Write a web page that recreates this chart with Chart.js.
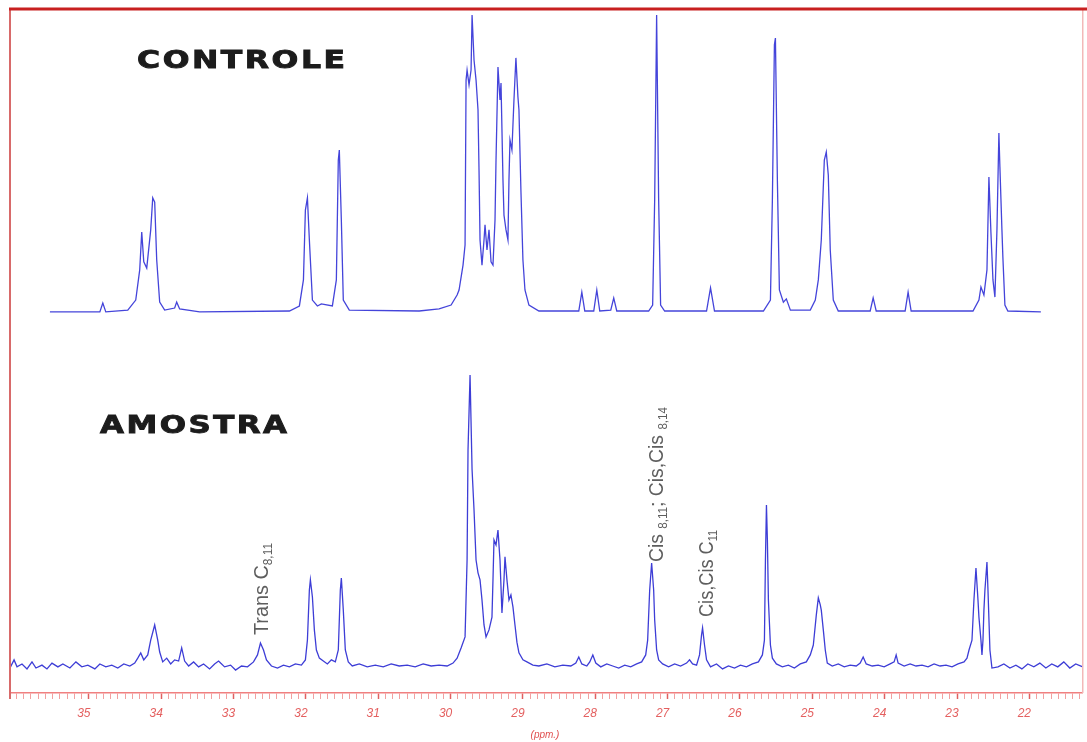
<!DOCTYPE html>
<html><head><meta charset="utf-8">
<script src="https://cdn.jsdelivr.net/npm/chart.js@4.4.1/dist/chart.umd.min.js"></script>
<style>html,body{margin:0;padding:0;background:#fff;overflow:hidden}canvas{display:block}</style>
</head><body>
<canvas id="c" width="1087" height="742"></canvas>
<script>
const seriesNames = ['CONTROLE', 'AMOSTRA'];
const axisTitle = '(ppm.)';
const majorTicks = [35, 34, 33, 32, 31, 30, 29, 28, 27, 26, 25, 24, 23, 22];

// [ppm, relative intensity] for the CONTROLE spectrum
const controle = [[35.538,-0.3],[34.848,-0.3],[34.807,2.7],[34.766,-0.3],[34.462,0.3],[34.352,3.7],[34.297,13.9],[34.269,26.7],[34.241,16.6],[34.2,14.5],[34.145,27.4],[34.117,38.2],[34.09,36.8],[34.062,17.2],[34.021,3.0],[33.952,0.3],[33.814,1.0],[33.786,3.0],[33.745,0.7],[33.469,-0.3],[32.228,0],[32.09,1.7],[32.034,10.5],[32.007,34.1],[31.979,38.2],[31.952,24.0],[31.91,3.7],[31.841,1.7],[31.786,2.4],[31.634,1.7],[31.579,10.5],[31.552,51.0],[31.538,54.4],[31.51,30.7],[31.483,3.7],[31.4,0.3],[30.434,0],[30.159,0.7],[29.993,2.0],[29.91,5.4],[29.883,7.1],[29.828,15.5],[29.8,22.3],[29.786,78.0],[29.772,81.4],[29.745,76.4],[29.717,81.4],[29.703,100],[29.676,84.8],[29.648,78.0],[29.621,67.9],[29.607,47.6],[29.593,24.0],[29.566,15.5],[29.538,24.0],[29.524,29.1],[29.497,20.6],[29.469,27.4],[29.441,16.6],[29.414,15.5],[29.386,30.7],[29.372,51.0],[29.345,82.4],[29.317,71.3],[29.303,77.0],[29.276,44.3],[29.262,32.4],[29.234,27.4],[29.207,24.0],[29.193,44.3],[29.179,57.8],[29.152,54.4],[29.124,71.3],[29.097,85.5],[29.069,72.3],[29.055,67.9],[29.028,40.9],[29.0,17.2],[28.972,7.1],[28.917,2.0],[28.779,0],[28.228,0],[28.186,6.4],[28.145,0],[28.021,0],[27.979,7.1],[27.938,0],[27.786,0.3],[27.745,4.4],[27.703,0],[27.262,0],[27.207,2.0],[27.179,37.5],[27.152,100],[27.124,37.5],[27.097,2.0],[27.041,0],[26.462,0],[26.407,7.8],[26.352,0],[25.676,0],[25.579,3.7],[25.552,37.5],[25.524,89.9],[25.51,92.2],[25.483,44.3],[25.455,7.1],[25.4,3.0],[25.359,4.1],[25.303,0.3],[25.028,0.3],[24.959,3.7],[24.917,10.5],[24.876,24.0],[24.834,51.0],[24.807,53.7],[24.779,45.9],[24.752,20.6],[24.71,3.7],[24.641,0],[24.2,0],[24.159,4.4],[24.117,0],[23.717,0],[23.676,6.4],[23.634,0],[22.779,0],[22.697,3.7],[22.669,8.1],[22.628,5.4],[22.586,13.9],[22.559,45.3],[22.531,26.4],[22.503,10.5],[22.476,4.7],[22.448,27.4],[22.421,60.1],[22.407,48.6],[22.379,27.4],[22.366,18.2],[22.338,2.0],[22.297,0],[21.841,-0.3]];

// [ppm, relative intensity] for the AMOSTRA spectrum
const amostra = [[36.09,-0.7],[36.034,2.1],[35.993,-0.3],[35.924,0.7],[35.855,-1.0],[35.786,1.4],[35.731,-0.7],[35.648,0.3],[35.579,-1.0],[35.51,1.0],[35.428,-0.3],[35.359,0.7],[35.262,-0.7],[35.179,1.4],[35.097,-0.3],[35.014,0.3],[34.917,-1.0],[34.848,0.7],[34.766,-0.3],[34.683,0.3],[34.6,-0.7],[34.517,0.7],[34.434,0],[34.366,1.0],[34.324,2.7],[34.283,4.5],[34.241,2.1],[34.186,3.8],[34.145,8.9],[34.09,14.1],[34.048,8.9],[34.021,4.8],[33.979,1.4],[33.924,2.7],[33.869,0.7],[33.814,2.1],[33.759,1.7],[33.717,6.2],[33.676,1.7],[33.621,0],[33.552,1.4],[33.483,-0.3],[33.414,0.7],[33.331,-1.0],[33.262,0.7],[33.207,1.7],[33.179,1.0],[33.124,-0.3],[33.041,0.3],[32.972,-1.4],[32.89,0],[32.807,-0.3],[32.724,1.4],[32.669,3.8],[32.628,7.9],[32.586,5.5],[32.545,2.1],[32.476,0],[32.393,-0.7],[32.31,0.3],[32.228,-0.3],[32.145,0.7],[32.062,0.3],[32.007,2.1],[31.979,8.9],[31.952,26.1],[31.938,29.6],[31.91,23.7],[31.883,12.4],[31.855,5.5],[31.814,2.7],[31.759,1.7],[31.703,0.7],[31.648,2.1],[31.593,1.4],[31.552,5.5],[31.524,26.1],[31.51,30.2],[31.483,19.2],[31.455,5.5],[31.414,1.4],[31.359,0],[31.262,0.7],[31.152,-0.3],[31.041,0.3],[30.931,-0.3],[30.821,0.7],[30.71,0],[30.6,0.3],[30.49,-0.3],[30.379,0.7],[30.269,0],[30.159,0.3],[30.048,0],[29.966,1.0],[29.91,2.7],[29.855,6.2],[29.8,10.0],[29.772,36.4],[29.759,74.2],[29.731,100],[29.703,67.4],[29.676,53.6],[29.648,36.4],[29.621,32.0],[29.593,29.6],[29.566,22.7],[29.538,14.1],[29.51,10.0],[29.469,12.4],[29.428,16.8],[29.414,29.6],[29.4,43.3],[29.372,41.6],[29.345,46.7],[29.317,36.4],[29.29,18.2],[29.262,29.6],[29.248,37.5],[29.221,29.6],[29.193,22.7],[29.166,24.4],[29.138,20.3],[29.11,14.1],[29.083,8.2],[29.055,4.5],[29.0,2.1],[28.945,1.4],[28.862,0.3],[28.779,0],[28.669,0.7],[28.559,-0.3],[28.448,0.3],[28.338,0],[28.269,1.0],[28.228,3.1],[28.186,0.7],[28.117,0],[28.076,1.4],[28.034,3.8],[27.993,1.0],[27.924,-0.3],[27.841,0.7],[27.759,0],[27.676,-0.7],[27.593,0.3],[27.51,-0.3],[27.428,0.7],[27.359,1.4],[27.303,3.8],[27.276,8.9],[27.248,26.1],[27.221,35.4],[27.193,26.1],[27.179,15.8],[27.152,5.5],[27.124,2.1],[27.069,0.7],[26.986,-0.3],[26.903,0.7],[26.821,0],[26.738,1.0],[26.697,2.1],[26.655,0.7],[26.6,0.3],[26.559,3.8],[26.531,10.7],[26.517,13.1],[26.49,7.2],[26.462,2.1],[26.407,-0.3],[26.324,0.7],[26.241,-1.0],[26.159,0],[26.076,-0.7],[25.993,0.3],[25.91,-0.3],[25.828,0.7],[25.745,1.4],[25.69,3.8],[25.662,8.9],[25.648,36.4],[25.634,55.3],[25.621,43.3],[25.607,22.7],[25.579,7.2],[25.552,2.7],[25.497,0.7],[25.414,-0.3],[25.331,0.3],[25.248,-0.7],[25.166,0.7],[25.083,1.4],[25.028,3.8],[24.986,7.2],[24.945,17.5],[24.917,23.4],[24.89,21.0],[24.876,19.2],[24.848,12.4],[24.821,5.5],[24.793,1.0],[24.724,0],[24.641,0.7],[24.559,-0.3],[24.476,0.3],[24.393,0],[24.338,1.0],[24.297,3.1],[24.255,0.7],[24.172,0],[24.09,0.3],[24.007,-0.3],[23.924,0.7],[23.869,1.4],[23.841,3.8],[23.814,1.0],[23.731,0],[23.648,0.7],[23.566,0],[23.483,0.3],[23.4,-0.3],[23.317,0.7],[23.234,0],[23.152,0.3],[23.069,-0.3],[22.986,0.7],[22.903,1.4],[22.862,2.7],[22.834,5.5],[22.793,8.9],[22.766,22.7],[22.738,33.7],[22.71,22.7],[22.697,16.8],[22.669,8.9],[22.655,3.8],[22.641,8.9],[22.628,19.2],[22.614,26.1],[22.586,35.7],[22.572,26.1],[22.545,5.5],[22.517,-0.7],[22.434,-0.3],[22.352,0.7],[22.269,-0.7],[22.186,0.3],[22.103,-1.0],[22.021,0.7],[21.938,-0.3],[21.855,1.0],[21.772,-0.7],[21.69,0.7],[21.607,-0.3],[21.524,1.4],[21.441,-0.7],[21.359,0.7],[21.262,-0.3]];

// peak annotations: text parts with subscript flags
const peakNotes = [
  {parts: [['Trans C', 0], ['8,11', 1]], baseX: 268, bottomY: 635, len: 92},
  {parts: [['Cis ', 0], ['8,11', 1], ['; Cis,Cis ', 0], ['8,14', 1]], baseX: 663, bottomY: 562, len: 155},
  {parts: [['Cis,Cis C', 0], ['11', 1]], baseX: 713, bottomY: 617, len: 87}
];

const isMajor = v => majorTicks.some(m => Math.abs(m - v) < 1e-6);

function fitText(ctx, text, x, y, width, font, spacing) {
  ctx.save();
  ctx.font = font;
  ctx.letterSpacing = spacing + 'px';
  const w = ctx.measureText(text).width - spacing;
  ctx.translate(x, y);
  ctx.scale(width / w, 1);
  ctx.textAlign = 'left';
  ctx.textBaseline = 'alphabetic';
  ctx.lineWidth = 0.9;
  ctx.strokeStyle = ctx.fillStyle;
  ctx.fillText(text, 0, 0);
  ctx.strokeText(text, 0, 0);
  ctx.restore();
}

function drawRotated(ctx, note) {
  const fam = "'Liberation Sans Narrow','Liberation Sans',Arial,sans-serif";
  const mainFont = '20px ' + fam, subFont = '12px ' + fam;
  let total = 0;
  note.parts.forEach(p => { ctx.font = p[1] ? subFont : mainFont; total += ctx.measureText(p[0]).width; });
  ctx.save();
  ctx.translate(note.baseX, note.bottomY);
  ctx.rotate(-Math.PI / 2);
  ctx.scale(note.len / total, 1);
  ctx.fillStyle = '#5e5e5e';
  ctx.textBaseline = 'alphabetic';
  ctx.textAlign = 'left';
  let x = 0;
  note.parts.forEach(p => {
    ctx.font = p[1] ? subFont : mainFont;
    ctx.fillText(p[0], x, p[1] ? 4 : 0);
    x += ctx.measureText(p[0]).width;
  });
  ctx.restore();
}

const decor = {
  id: 'decor',
  beforeDraw(chart) {
    const ctx = chart.ctx;
    ctx.save(); ctx.fillStyle = '#fff'; ctx.fillRect(0, 0, chart.width, chart.height); ctx.restore();
  },
  afterDraw(chart) {
    const ctx = chart.ctx, a = chart.chartArea;
    ctx.save();
    // frame
    ctx.strokeStyle = '#f2b8b8'; ctx.lineWidth = 1.5;
    ctx.beginPath(); ctx.moveTo(a.right, a.top); ctx.lineTo(a.right, a.bottom); ctx.stroke();
    ctx.strokeStyle = '#d86a6a'; ctx.lineWidth = 2;
    ctx.beginPath(); ctx.moveTo(a.left, a.top); ctx.lineTo(a.left, a.bottom + 6); ctx.stroke();
    ctx.strokeStyle = '#c82020'; ctx.lineWidth = 3;
    ctx.beginPath(); ctx.moveTo(a.left - 1, a.top + 1); ctx.lineTo(chart.width, a.top + 1); ctx.stroke();
    // titles
    ctx.fillStyle = '#1c1c1c';
    fitText(ctx, seriesNames[0], 137, 68, 208, "bold 25px 'DejaVu Sans','Liberation Sans',Arial,sans-serif", 2);
    fitText(ctx, seriesNames[1], 100, 433, 187, "bold 25px 'DejaVu Sans','Liberation Sans',Arial,sans-serif", 2);
    // peak notes
    peakNotes.forEach(n => drawRotated(ctx, n));
    // axis title
    ctx.fillStyle = '#e05050';
    ctx.font = "italic 10px 'Liberation Sans',Arial,sans-serif";
    ctx.textAlign = 'center'; ctx.textBaseline = 'middle';
    ctx.fillText(axisTitle, 545, 735);
    ctx.restore();
  }
};

new Chart(document.getElementById('c'), {
  type: 'line',
  data: {
    datasets: [
      {label: seriesNames[0], data: controle.map(p => ({x: p[0], y: p[1]})), yAxisID: 'yC',
       borderColor: 'rgba(52,52,215,0.92)', borderWidth: 1.3, pointRadius: 0, tension: 0, fill: false},
      {label: seriesNames[1], data: amostra.map(p => ({x: p[0], y: p[1]})), yAxisID: 'yA',
       borderColor: 'rgba(45,45,210,0.92)', borderWidth: 1.3, pointRadius: 0, tension: 0, fill: false}
    ]
  },
  options: {
    responsive: false, animation: false, devicePixelRatio: 1,
    layout: {padding: {left: 10, right: 2, top: 8, bottom: 0}},
    plugins: {legend: {display: false}, tooltip: {enabled: false}},
    scales: {
      x: {
        type: 'linear', reverse: true, min: 21.262, max: 36.09, position: 'bottom',
        afterFit(s) { s.height = 49; },
        border: {display: true, color: '#f08080', width: 1.5},
        grid: {drawOnChartArea: false, drawTicks: true, tickLength: 6,
               tickColor: c => isMajor(c.tick.value) ? '#e06060' : '#f2a0a0',
               tickWidth: c => isMajor(c.tick.value) ? 1.5 : 1},
        ticks: {stepSize: 0.1, autoSkip: false, maxRotation: 0, minRotation: 0, includeBounds: false,
                padding: 7, labelOffset: -5, color: '#e46060',
                font: {family: "'Liberation Sans',Arial,sans-serif", style: 'italic', size: 12},
                callback: v => isMajor(v) ? String(Math.round(v)) : ''}
      },
      yC: {display: false, min: -129.05, max: 102.36},
      yA: {display: false, min: -9.28, max: 226.1}
    }
  },
  plugins: [decor]
});
</script>
</body></html>
